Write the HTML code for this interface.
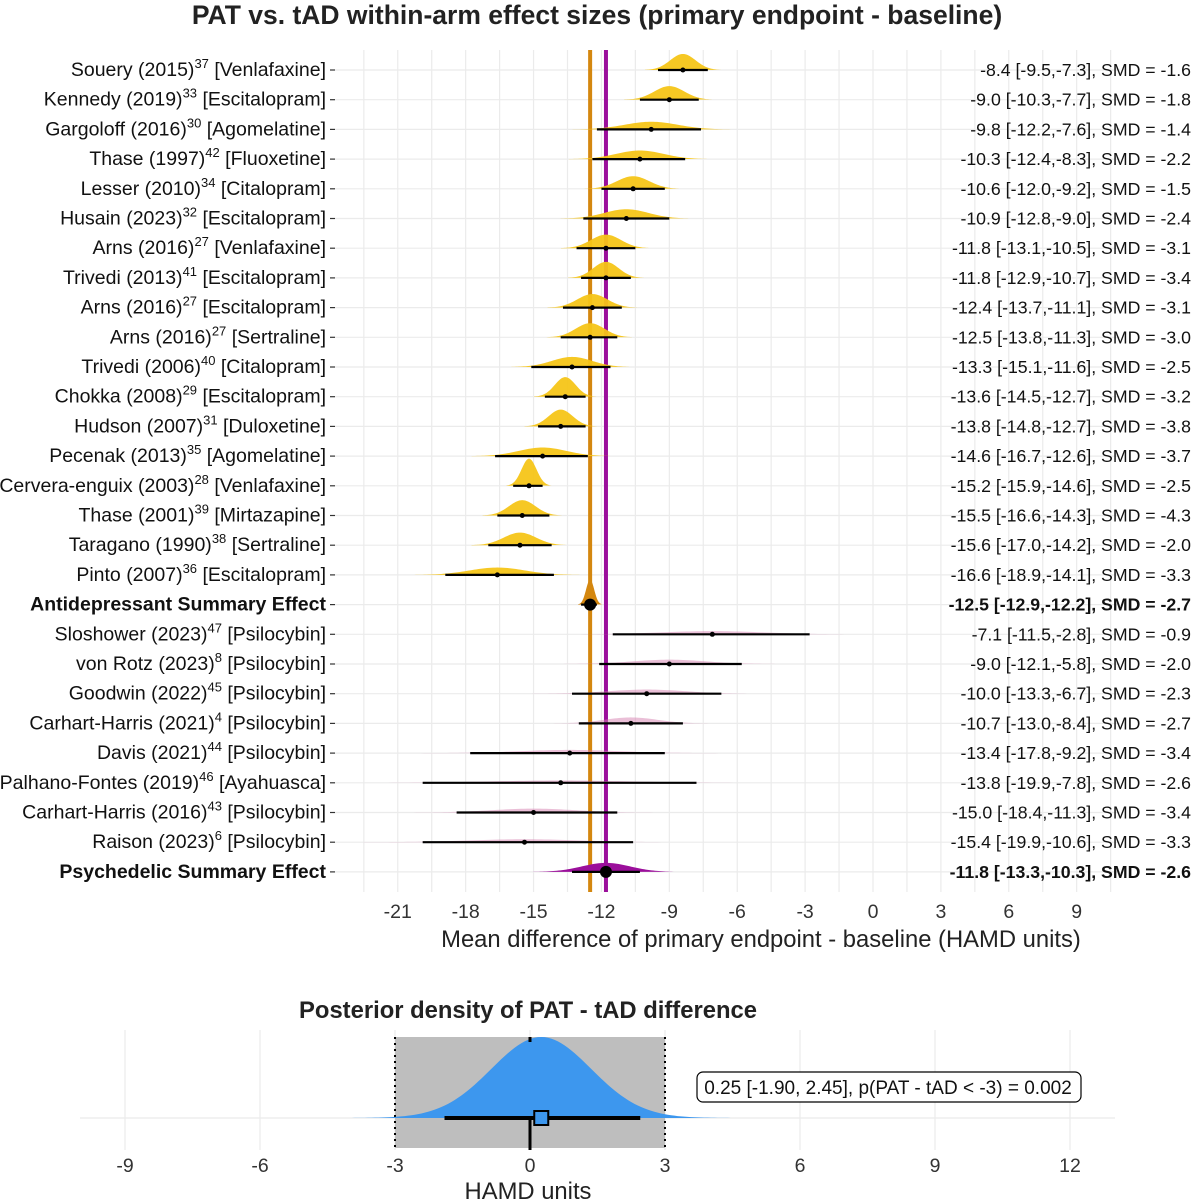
<!DOCTYPE html>
<html><head><meta charset="utf-8"><style>
body{margin:0;background:#fff}
svg{display:block;font-family:"Liberation Sans",sans-serif}
</style></head><body>
<svg id="c" width="1193" height="1200" viewBox="0 0 1193 1200"></svg>
<script>
const names=["Souery (2015)|37| [Venlafaxine]","Kennedy (2019)|33| [Escitalopram]","Gargoloff (2016)|30| [Agomelatine]","Thase (1997)|42| [Fluoxetine]","Lesser (2010)|34| [Citalopram]","Husain (2023)|32| [Escitalopram]","Arns (2016)|27| [Venlafaxine]","Trivedi (2013)|41| [Escitalopram]","Arns (2016)|27| [Escitalopram]","Arns (2016)|27| [Sertraline]","Trivedi (2006)|40| [Citalopram]","Chokka (2008)|29| [Escitalopram]","Hudson (2007)|31| [Duloxetine]","Pecenak (2013)|35| [Agomelatine]","Cervera-enguix (2003)|28| [Venlafaxine]","Thase (2001)|39| [Mirtazapine]","Taragano (1990)|38| [Sertraline]","Pinto (2007)|36| [Escitalopram]","Antidepressant Summary Effect","Sloshower (2023)|47| [Psilocybin]","von Rotz (2023)|8| [Psilocybin]","Goodwin (2022)|45| [Psilocybin]","Carhart-Harris (2021)|4| [Psilocybin]","Davis (2021)|44| [Psilocybin]","Palhano-Fontes (2019)|46| [Ayahuasca]","Carhart-Harris (2016)|43| [Psilocybin]","Raison (2023)|6| [Psilocybin]","Psychedelic Summary Effect"];
const means=[-8.4,-9.0,-9.8,-10.3,-10.6,-10.9,-11.8,-11.8,-12.4,-12.5,-13.3,-13.6,-13.8,-14.6,-15.2,-15.5,-15.6,-16.6,-12.5,-7.1,-9.0,-10.0,-10.7,-13.4,-13.8,-15.0,-15.4,-11.8];
const lows=[-9.5,-10.3,-12.2,-12.4,-12.0,-12.8,-13.1,-12.9,-13.7,-13.8,-15.1,-14.5,-14.8,-16.7,-15.9,-16.6,-17.0,-18.9,-12.9,-11.5,-12.1,-13.3,-13.0,-17.8,-19.9,-18.4,-19.9,-13.3];
const highs=[-7.3,-7.7,-7.6,-8.3,-9.2,-9.0,-10.5,-10.7,-11.1,-11.3,-11.6,-12.7,-12.7,-12.6,-14.6,-14.3,-14.2,-14.1,-12.2,-2.8,-5.8,-6.7,-8.4,-9.2,-7.8,-11.3,-10.6,-10.3];
const smds=[-1.6,-1.8,-1.4,-2.2,-1.5,-2.4,-3.1,-3.4,-3.1,-3.0,-2.5,-3.2,-3.8,-3.7,-2.5,-4.3,-2.0,-3.3,-2.7,-0.9,-2.0,-2.3,-2.7,-3.4,-2.6,-3.4,-3.3,-2.6];
const groups=["a","a","a","a","a","a","a","a","a","a","a","a","a","a","a","a","a","a","as","p","p","p","p","p","p","p","p","ps"];
const xTicks=[-21,-18,-15,-12,-9,-6,-3,0,3,6,9];
const postMean=0.25, postLow=-1.90, postHigh=2.45, postProb=0.002;
const bTicks=[-9,-6,-3,0,3,6,9,12];

const NS="http://www.w3.org/2000/svg", svg=document.getElementById('c');
function el(t,a,p){const e=document.createElementNS(NS,t);for(const k in a)e.setAttribute(k,a[k]);(p||svg).appendChild(e);return e;}
const x=v=>873+v*22.63, y=i=>70+i*29.7;
const fmt=v=>v.toFixed(1);
for(let v=-22.5;v<=10.6;v+=1.5){const g=el('line',{x1:x(v),x2:x(v),y1:50,y2:892,stroke:'#ebebeb','stroke-width':1.2});}
names.forEach((n,i)=>{const g=el('line',{x1:335,x2:1120,y1:y(i),y2:y(i),stroke:'#ebebeb','stroke-width':1.2});
 const t=el('line',{x1:330,x2:335,y1:y(i),y2:y(i),stroke:'#333','stroke-width':1.2});});
const vl1=el('line',{x1:x(means[18]),x2:x(means[18]),y1:50,y2:892,stroke:'#d4870f','stroke-width':4});
const vl2=el('line',{x1:x(means[27]),x2:x(means[27]),y1:50,y2:892,stroke:'#9b0f9b','stroke-width':4});
function dens(m,sd,h,yy,col,op,name){let d=`M${x(m-3*sd)},${yy}`;for(let k=0;k<=80;k++){const v=m-3*sd+6*sd*k/80;d+=`L${x(v)},${yy-h*Math.exp(-0.5*((v-m)/sd)**2)}`;}d+='Z';const p=el('path',{d,fill:col,'fill-opacity':op});}
names.forEach((n,i)=>{
 const g=groups[i],yy=y(i),sd=(highs[i]-lows[i])/3.92;
 if(g==='a'){dens(means[i],sd,9/sd,yy,'#f5c518',0.95,'density-antidepressant');}
 else if(g==='p'){dens(means[i],sd,7/sd,yy,'#d580b0',0.5,'density-psychedelic');}
 else if(g==='as'){dens(means[i],sd,25,yy,'#d4870f',1,'density-antidepressant-summary');}
 else{dens(means[i],sd*1.4,9,yy,'#9b0f9b',1,'density-psychedelic-summary');}
 const ci=el('line',{x1:x(lows[i]),x2:x(highs[i]),y1:yy,y2:yy,stroke:'#000','stroke-width':2.2});
 const big=g==='as'||g==='ps';
 const pt=el('circle',{cx:x(means[i]),cy:yy,r:big?6:2.5,fill:'#000'});
 const parts=n.split('|');
 const t=el('text',{x:326,y:yy+6,'text-anchor':'end','font-size':19.5,fill:'#111','font-weight':big?'bold':'normal'});
 if(parts.length===3){t.appendChild(document.createTextNode(parts[0]));const s=el('tspan',{'font-size':13,dy:-8},t);s.textContent=parts[1];const r=el('tspan',{dy:8},t);r.textContent=parts[2];}else t.textContent=n;
 const rt=el('text',{x:1191,y:yy+6,'text-anchor':'end','font-size':17.7,fill:'#111','font-weight':big?'bold':'normal'});
 rt.textContent=`${fmt(means[i])} [${fmt(lows[i])},${fmt(highs[i])}], SMD = ${fmt(smds[i])}`;
});
xTicks.forEach(v=>{const t=el('text',{x:x(v),y:918,'text-anchor':'middle','font-size':19.5,fill:'#333'});t.textContent=v;});
let tt=el('text',{x:597,y:24,'text-anchor':'middle','font-size':26.5,'font-weight':'bold',fill:'#222'});tt.textContent='PAT vs. tAD within-arm effect sizes (primary endpoint - baseline)';
tt=el('text',{x:761,y:947,'text-anchor':'middle','font-size':23.8,fill:'#222'});tt.textContent='Mean difference of primary endpoint - baseline (HAMD units)';
const bx=v=>530+v*45, by=1118;
for(let v=-9;v<=12;v+=3){const g=el('line',{x1:bx(v),x2:bx(v),y1:1030,y2:1150,stroke:'#ebebeb','stroke-width':1.2});}
let q=el('line',{x1:80,x2:1115,y1:by,y2:by,stroke:'#ebebeb','stroke-width':1.2});
q=el('rect',{x:bx(-3),y:1037,width:bx(3)-bx(-3),height:111,fill:'#bebebe'});
[-3,3].forEach(v=>{const l=el('line',{x1:bx(v),x2:bx(v),y1:1037,y2:1150,stroke:'#000','stroke-width':2,'stroke-dasharray':'2,4'});});
const psd=(postHigh-postLow)/3.92;
let d=`M${bx(postMean-4*psd)},${by}`;for(let k=0;k<=120;k++){const v=postMean-4*psd+8*psd*k/120;d+=`L${bx(v)},${by-81*Math.exp(-0.5*((v-postMean)/psd)**2)}`;}d+='Z';
q=el('path',{d,fill:'#3d97ee'});
q=el('line',{x1:bx(0),x2:bx(0),y1:by,y2:1150,stroke:'#000','stroke-width':3});
q=el('line',{x1:bx(0),x2:bx(0),y1:1037,y2:1042,stroke:'#000','stroke-width':3});
q=el('line',{x1:bx(postLow),x2:bx(postHigh),y1:by,y2:by,stroke:'#000','stroke-width':4});
q=el('rect',{x:bx(postMean)-7,y:by-7,width:14,height:14,fill:'#3d97ee',stroke:'#000','stroke-width':2});
q=el('rect',{x:697,y:1072,width:384,height:30,rx:6,fill:'#fff',stroke:'#000','stroke-width':1.2});
q=el('text',{x:888,y:1094,'text-anchor':'middle','font-size':19,fill:'#111','xml:space':'preserve'});q.textContent=`${postMean.toFixed(2)} [${postLow.toFixed(2)}, ${postHigh.toFixed(2)}],  p(PAT - tAD < -3) = ${postProb.toFixed(3)}`;
bTicks.forEach(v=>{const t=el('text',{x:bx(v),y:1172,'text-anchor':'middle','font-size':19.5,fill:'#333'});t.textContent=v;});
q=el('text',{x:528,y:1018,'text-anchor':'middle','font-size':23.8,'font-weight':'bold',fill:'#222'});q.textContent='Posterior density of PAT - tAD difference';
q=el('text',{x:528,y:1199,'text-anchor':'middle','font-size':23.8,fill:'#222'});q.textContent='HAMD units';
</script>
</body></html>
